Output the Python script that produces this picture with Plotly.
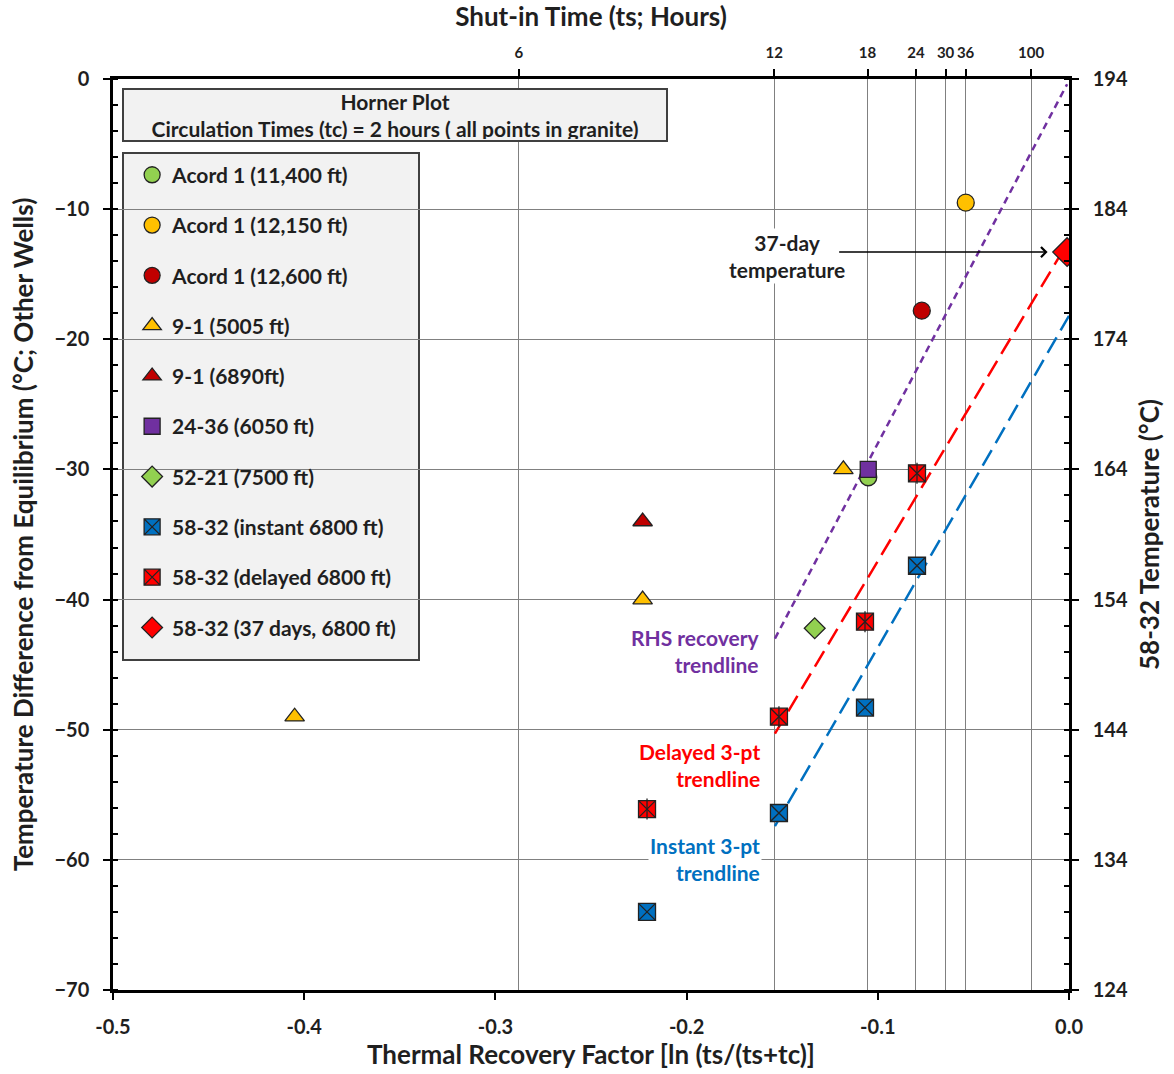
import numpy as np
import plotly.graph_objects as go

# ---------------- data ----------------
TC = 2.0  # circulation time (hours)
shut_in_hours = [6, 12, 18, 24, 30, 36, 100]
shut_in_labels = ["6", "12", "18", "24", "30", "36", "100"]

acord_11400_x = [-0.105]
acord_11400_y = [-30.6]
acord_12150_x = [-0.054]
acord_12150_y = [-9.5]
acord_12600_x = [-0.077]
acord_12600_y = [-17.8]
w91_5005_x = [-0.405, -0.223, -0.118]
w91_5005_y = [-49.0, -40.0, -30.0]
w91_6890_x = [-0.223]
w91_6890_y = [-34.0]
w2436_x = [-0.105]
w2436_y = [-30.0]
w5221_x = [-0.133]
w5221_y = [-42.2]

# 58-32 values are plotted against the right (temperature, °C) axis
w5832_instant_x = [-0.2207, -0.1517, -0.1067, -0.0795]
w5832_instant_t = [130.0, 137.6, 145.7, 156.6]
w5832_delayed_x = [-0.2207, -0.1517, -0.1067, -0.0795]
w5832_delayed_t = [137.9, 145.0, 152.3, 163.7]
w5832_37day_x = [-0.001]
w5832_37day_t = [180.7]

# trendlines
rhs_trend_x = [-0.1538, -0.001]
rhs_trend_y = [-43.0, -0.4]
delayed_trend_x = [-0.1538, 0.0]
delayed_trend_t = [143.7, 181.6]
instant_trend_x = [-0.1538, 0.0]
instant_trend_t = [136.6, 175.8]

# ---------------- styling ----------------
FONT = "Lato, 'Open Sans', sans-serif"
GREEN = "#92d050"
YELLOW = "#ffc000"
DRED = "#c00000"
PURPLE = "#7030a0"
BLUE = "#0070c0"
RED = "#ff0000"
TXT = "#1f1f1f"
LINE = dict(color="#222222", width=1.3)

fig = go.Figure()

def pts(name, x, y, symbol, color, size, yaxis="y"):
    fig.add_trace(go.Scatter(
        x=x, y=y, mode="markers", name=name, yaxis=yaxis,
        legendgroup=name,
        marker=dict(symbol=symbol, color=color, size=size, line=LINE),
    ))

# trendlines (behind markers)
fig.add_trace(go.Scatter(x=rhs_trend_x, y=rhs_trend_y, mode="lines", showlegend=False,
                         line=dict(color=PURPLE, width=2.5, dash="7px,5px")))
fig.add_trace(go.Scatter(x=delayed_trend_x, y=delayed_trend_t, mode="lines", yaxis="y2",
                         showlegend=False, line=dict(color=RED, width=2.5, dash="18px,8px")))
fig.add_trace(go.Scatter(x=instant_trend_x, y=instant_trend_t, mode="lines", yaxis="y2",
                         showlegend=False, line=dict(color=BLUE, width=2.5, dash="18px,8px")))

pts("Acord 1 (11,400 ft)", acord_11400_x, acord_11400_y, "circle", GREEN, 17)
pts("Acord 1 (12,150 ft)", acord_12150_x, acord_12150_y, "circle", YELLOW, 17)
pts("Acord 1 (12,600 ft)", acord_12600_x, acord_12600_y, "circle", DRED, 17)
pts("9-1 (5005 ft)", w91_5005_x, w91_5005_y, "triangle-up", YELLOW, 17)
pts("9-1 (6890ft)", w91_6890_x, w91_6890_y, "triangle-up", DRED, 17)
pts("24-36 (6050 ft)", w2436_x, w2436_y, "square", PURPLE, 16)
pts("52-21 (7500 ft)", w5221_x, w5221_y, "diamond", GREEN, 16)
pts("58-32 (instant 6800 ft)", w5832_instant_x, w5832_instant_t, "square-x", BLUE, 17, "y2")
pts("58-32 (delayed 6800 ft)", w5832_delayed_x, w5832_delayed_t, "square-x", RED, 17, "y2")
# vertical stroke completing the asterisk on the delayed markers
fig.add_trace(go.Scatter(x=w5832_delayed_x, y=w5832_delayed_t, mode="markers", yaxis="y2",
                         showlegend=False, hoverinfo="skip",
                         marker=dict(symbol="line-ns", size=15, color="black",
                                     line=dict(color="#222222", width=1.3))))
pts("58-32 (37 days, 6800 ft)", w5832_37day_x, w5832_37day_t, "diamond", RED, 22, "y2")

# top axis: shut-in time positions ln(ts/(ts+tc))
top_vals = [float(np.log(h / (h + TC))) for h in shut_in_hours]
fig.add_trace(go.Scatter(x=top_vals, y=[None] * len(top_vals), xaxis="x2", mode="markers",
                         showlegend=False, hoverinfo="skip"))

axis_common = dict(showline=True, linecolor="black", linewidth=2.5, ticks="outside",
                   ticklen=7, tickwidth=1.5, tickcolor="black", zeroline=False,
                   automargin=False)

fig.update_layout(
    width=1174, height=1074,
    margin=dict(l=113, r=105, t=79, b=84),
    paper_bgcolor="white", plot_bgcolor="white",
    font=dict(family=FONT, size=18, color=TXT, weight="bold"),
    xaxis=dict(
        range=[-0.5, 0.0], tickvals=[-0.5, -0.4, -0.3, -0.2, -0.1, 0.0],
        ticktext=["-0.5", "-0.4", "-0.3", "-0.2", "-0.1", "0.0"],
        showgrid=False, ticklabelstandoff=10,
        title=dict(text="Thermal Recovery Factor [ln (ts/(ts+tc)]", standoff=6,
                   font=dict(size=26, weight="bold")),
        tickfont=dict(size=20, weight="bold"),
        **axis_common,
    ),
    xaxis2=dict(
        overlaying="x", side="top", range=[-0.5, 0.0],
        tickvals=top_vals, ticktext=shut_in_labels, tickangle=0,
        showgrid=True, gridcolor="#808080", gridwidth=1.2, ticklabelstandoff=5,
        title=dict(text="Shut-in Time (ts; Hours)", standoff=14,
                   font=dict(size=26, weight="bold")),
        tickfont=dict(size=15, weight="bold"),
        **axis_common,
    ),
    yaxis=dict(
        range=[-70, 0], dtick=10, tick0=0,
        showgrid=True, gridcolor="#808080", gridwidth=1.2, ticklabelstandoff=10,
        minor=dict(dtick=2, tick0=0, ticks="inside", ticklen=5, tickcolor="black", showgrid=False),
        title=dict(text="Temperature Difference from Equilibrium (°C; Other Wells)", standoff=14,
                   font=dict(size=26, weight="bold")),
        tickfont=dict(size=20, weight="bold"),
        **axis_common,
    ),
    yaxis2=dict(
        overlaying="y", side="right", range=[124, 194], dtick=10, tick0=124,
        showgrid=False, ticklabelstandoff=10,
        minor=dict(dtick=2, tick0=124, ticks="inside", ticklen=5, tickcolor="black", showgrid=False),
        title=dict(text="58-32 Temperature (°C)", standoff=14,
                   font=dict(size=26, weight="bold")),
        tickfont=dict(size=20, weight="bold"),
        **axis_common,
    ),
    legend=dict(
        x=0.02, y=0.917, xanchor="left", yanchor="top",
        bgcolor="rgba(0,0,0,0)", borderwidth=0,
        font=dict(size=21, weight="bold", color=TXT),
        tracegroupgap=20, itemwidth=30,
    ),
    showlegend=True,
)

# legend frame (background box)
fig.add_shape(type="rect", xref="paper", yref="paper", layer="below",
              x0=(123 - 113) / 956, x1=(419 - 113) / 956,
              y0=(990 - 660) / 911, y1=(990 - 153) / 911,
              fillcolor="#f2f2f2", line=dict(color="#404040", width=2))

annotations = [
    dict(text="Horner Plot<br>Circulation Times (tc) = 2 hours ( all points in granite)",
         xref="paper", yref="paper", x=0.295, y=0.9605, showarrow=False,
         xanchor="center", yanchor="middle", bgcolor="#f2f2f2", bordercolor="#404040",
         borderwidth=2, width=540, height=48, font=dict(size=21, weight="bold", color=TXT)),
    dict(text="37-day<br>temperature", x=-0.1475, y=-13.6, xref="x", yref="y",
         showarrow=False, xanchor="center", yanchor="middle", bgcolor="white",
         font=dict(size=21, weight="bold", color=TXT)),
    dict(text="", x=-0.0112, y=-13.3, ax=-0.121, ay=-13.3, xref="x", yref="y",
         axref="x", ayref="y", showarrow=True, arrowhead=4, arrowsize=1.3,
         arrowwidth=1.5, arrowcolor="black"),
    dict(text="RHS recovery<br>trendline", x=-0.1606, y=-43.97, xref="x", yref="y",
         showarrow=False, xanchor="right", yanchor="middle", align="right",
         font=dict(size=21, weight="bold", color=PURPLE)),
    dict(text="Delayed 3-pt<br>trendline", x=-0.1606, y=-52.7, xref="x", yref="y",
         showarrow=False, xanchor="right", yanchor="middle", align="right",
         font=dict(size=21, weight="bold", color=RED)),
    dict(text="Instant 3-pt<br>trendline", x=-0.1606, y=-59.95, xref="x", yref="y",
         showarrow=False, xanchor="right", yanchor="middle", align="right", bgcolor="white",
         font=dict(size=21, weight="bold", color=BLUE)),
]
fig.update_layout(annotations=annotations)

fig.write_html("out.html")
